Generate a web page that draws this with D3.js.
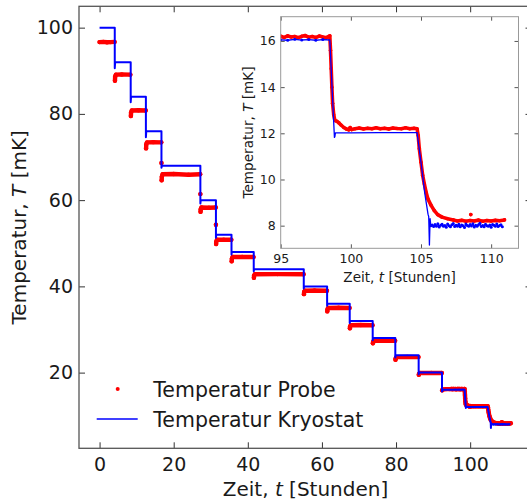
<!DOCTYPE html>
<html><head><meta charset="utf-8">
<script src="https://cdn.jsdelivr.net/npm/d3@7"></script>
<style>
body{margin:0;background:#fff;}
svg{display:block;font-family:"DejaVu Sans",sans-serif;}
</style>
</head><body>
<svg id="chart" width="527" height="501"></svg>
<script>
// ---------- data ----------
const xTicks = [0, 20, 40, 60, 80, 100];
const yTicks = [20, 40, 60, 80, 100];
const insetXTicks = [95, 100, 105, 110];
const insetYTicks = [8, 10, 12, 14, 16];

// Temperatur Probe (red readings), null = gap between recorded runs
const probeT = [
  0, 1, 2, 3, 4.05, null,
  4.15, 4.2, 4.4, 6, 8.3, null,
  8.45, 8.5, 8.7, 10.5, 12.45, null,
  12.55, 12.6, 12.8, 14.5, 16.65, null,
  16.7, null,
  16.75, 16.8, 17.0, 20, 24, 27.15, null,
  27.2, null,
  27.25, 27.3, 27.5, 29.5, 31.35, null,
  31.4, null,
  31.45, 31.5, 31.7, 33.5, 35.55, null,
  35.65, 35.7, 35.9, 38.5, 41.55, null,
  41.65, 41.7, 41.9, 48, 55.05, null,
  55.15, 55.2, 55.4, 58, 61.35, null,
  61.45, 61.5, 61.7, 64.5, 67.45, null,
  67.55, 67.6, 67.8, 70.5, 73.65, null,
  73.75, 73.8, 74.0, 77, 79.75, null,
  79.85, 79.9, 80.1, 83, 86.05, null,
  86.15, 86.2, 86.4, 89.5, 92.35, null,
  92.45, 92.6, 93.5, 94.5, 95.0, 95.25, 95.5, 95.75, 96.0, 96.25, 96.5, 96.75, 97.0, 97.25, 97.5, 97.75, 98.0, 98.25, 98.5,
  98.55, 98.6, 98.65, 98.7, 98.78, 98.86, 99.0, 99.15, 99.3, 99.5, 99.7, 99.85, 99.95, 100.05, 100.3, 100.6, 100.9,
  101.2, 101.5, 101.8, 102.1, 102.4, 102.7, 103.0, 103.3, 103.6, 103.9, 104.2, 104.5, 104.72,
  104.8, 104.88, 105.0, 105.12, 105.24, 105.36, 105.5, 105.72, 105.95, 106.19, 106.5, 106.9, 107.3, 107.6,
  107.9, 108.2, 108.5, 108.8, 109.1, 109.4, 109.7, 110.0, 110.3, 110.6, 110.95, null,
  108.55
];
const probeV = [
  96.65, 96.7, 96.6, 96.65, 96.7, null,
  87.7, 88.6, 89.1, 89.15, 89.1, null,
  79.5, 80.3, 80.8, 80.85, 80.8, null,
  72.0, 72.9, 73.4, 73.45, 73.4, null,
  68.6, null,
  64.6, 65.4, 66.0, 66.05, 65.9, 66.0, null,
  61.4, null,
  57.3, 57.9, 58.3, 58.25, 58.3, null,
  54.3, null,
  49.8, 50.4, 50.8, 50.85, 50.8, null,
  45.8, 46.4, 46.8, 46.85, 46.8, null,
  42.0, 42.5, 42.8, 42.85, 42.8, null,
  38.2, 38.7, 39.0, 39.05, 39.0, null,
  34.2, 34.7, 35.0, 35.05, 35.0, null,
  30.3, 30.7, 31.0, 31.05, 31.0, null,
  26.8, 27.1, 27.4, 27.45, 27.4, null,
  23.0, 23.3, 23.6, 23.65, 23.6, null,
  19.5, 19.7, 19.9, 19.95, 19.9, null,
  15.9, 16.1, 16.18, 16.17, 16.2, 16.15, 16.22, 16.17, 16.19, 16.14, 16.2, 16.23, 16.16, 16.19, 16.15, 16.21, 16.17, 16.14, 16.22,
  15.6, 14.8, 14.0, 13.3, 12.8, 12.56, 12.52, 12.45, 12.36, 12.25, 12.18, 12.15, 12.25, 12.16, 12.2, 12.23, 12.19,
  12.22, 12.2, 12.24, 12.2, 12.22, 12.19, 12.23, 12.21, 12.2, 12.24, 12.2, 12.22, 12.2,
  11.9, 11.33, 10.75, 10.18, 9.8, 9.46, 9.15, 8.88, 8.65, 8.48, 8.37, 8.3, 8.25, 8.2,
  8.23, 8.19, 8.22, 8.2, 8.24, 8.19, 8.22, 8.2, 8.23, 8.21, 8.25, null,
  8.48
];

// Temperatur Kryostat (blue line)
const kryoT = [
  0, 4.1, 4.1, 4.2, 8.4, 8.4, 8.5, 12.5, 12.5, 12.6, 16.7, 16.7, 16.8, 27.2, 27.2, 27.3,
  31.4, 31.4, 31.5, 35.6, 35.6, 35.7, 41.6, 41.6, 41.7, 55.1, 55.1, 55.2, 61.4, 61.4, 61.5,
  67.5, 67.5, 67.6, 73.7, 73.7, 73.8, 79.8, 79.8, 79.9, 86.1, 86.1, 86.2, 92.4, 92.4, 92.5,
  95.0, 95.5, 96.0, 96.5, 97.0, 97.5, 98.0, 98.5, 98.83, 98.86, 98.9, 100, 102, 104.72,
  104.98, 105.27, 105.5, 105.55, 105.6, 105.65, 105.7,
  105.8, 105.9, 106.0, 106.1, 106.2, 106.3, 106.4, 106.5, 106.6, 106.7, 106.8, 106.9, 107.0,
  107.1, 107.2, 107.3, 107.4, 107.5, 107.6, 107.7, 107.8, 107.9, 108.0, 108.1, 108.2, 108.3,
  108.4, 108.5, 108.6, 108.7, 108.8, 108.9, 109.0, 109.1, 109.2, 109.3, 109.4, 109.5, 109.6,
  109.7, 109.8, 109.9, 110.0, 110.1, 110.2, 110.3, 110.4, 110.5, 110.6, 110.7, 110.8
];
const kryoV = [
  100, 100, 90.6, 92, 92, 82.7, 84, 84, 74.6, 76, 76, 67.5, 68, 68, 59.2, 60,
  60, 51.3, 52, 52, 47.4, 48, 48, 43.5, 44, 44, 39.5, 40, 40, 35.5, 36,
  36, 31.5, 32, 32, 27.5, 28, 28, 23.5, 24, 24, 19.6, 20, 20, 15.6, 16.05,
  16.05, 16.03, 16.07, 16.04, 16.06, 16.03, 16.06, 16.04, 11.82, 11.85, 12.02, 12.02, 12.03, 12.03,
  10.84, 9.4, 8.5, 8.39, 7.16, 8.3, 8.0,
  8.03, 7.96, 8.05, 7.98, 8.08, 7.94, 8.02, 8.06, 7.97, 8.01, 7.93, 8.07, 8.0,
  7.95, 8.04, 8.09, 7.96, 8.02, 7.98, 8.06, 7.95, 8.03, 8.0, 7.92, 8.07, 8.01,
  7.97, 8.05, 7.99, 8.08, 7.94, 8.02, 7.98, 8.04, 8.1, 7.96, 8.01, 7.95, 8.06,
  8.0, 7.97, 8.03, 7.93, 8.05, 8.02, 7.98, 8.07, 7.96, 8.01, 8.04, 7.95
];

// ---------- drawing ----------
const svg = d3.select("#chart");
const probe = probeT.map((t, i) => ({t, v: probeV[i]}));
const kryo = kryoT.map((t, i) => ({t, v: kryoV[i]}));

function panel(opts) {
  const {x, y, clipId, redW, blueW, xt, yt, fs, tick, frameCol, tickCol, pad, xPad} = opts;
  const [x0, x1] = x.range(), [y0, y1] = y.range();
  const g = svg.append("g");
  if (opts.bg) g.append("rect").attr("x", x0).attr("y", y1).attr("width", x1 - x0).attr("height", y0 - y1).attr("fill", "#fff");
  svg.append("defs").append("clipPath").attr("id", clipId)
    .append("rect").attr("x", x0).attr("y", y1).attr("width", x1 - x0).attr("height", y0 - y1);
  const plot = g.append("g").attr("clip-path", `url(#${clipId})`);
  const line = d3.line().defined(d => d.v != null && d.t != null).x(d => x(d.t)).y(d => y(d.v));
  plot.append("path").datum(probe).attr("d", line).attr("fill", "none")
    .attr("stroke", "#ff0000").attr("stroke-width", redW)
    .attr("stroke-linecap", "round").attr("stroke-linejoin", "round");
  plot.selectAll("circle.p").data(probe.filter(d => d.v != null)).join("circle")
    .attr("class", "p").attr("cx", d => x(d.t)).attr("cy", d => y(d.v)).attr("r", redW / 2).attr("fill", "#ff0000");
  plot.append("path").datum(kryo).attr("d", line).attr("fill", "none")
    .attr("stroke", "#0000ff").attr("stroke-width", blueW).attr("stroke-linejoin", "round");
  if (opts.blueDots) {
    plot.selectAll("circle.k").data(kryo.filter(d => d.t >= 95 && (d.t < 98.5 || d.t > 105.65))).join("circle")
      .attr("class", "k").attr("cx", d => x(d.t)).attr("cy", d => y(d.v)).attr("r", opts.blueDots).attr("fill", "#0000ff");
  }

  const axB = g.append("g").attr("transform", `translate(0,${y0})`)
    .call(d3.axisBottom(x).tickValues(xt).tickSize(-tick).tickPadding(xPad).tickFormat(d3.format("d")));
  const axT = g.append("g").attr("transform", `translate(0,${y1})`)
    .call(d3.axisTop(x).tickValues(xt).tickSize(-tick).tickFormat(""));
  const axL = g.append("g").attr("transform", `translate(${x0},0)`)
    .call(d3.axisLeft(y).tickValues(yt).tickSize(-tick).tickPadding(pad).tickFormat(d3.format("d")));
  const axR = g.append("g").attr("transform", `translate(${x1},0)`)
    .call(d3.axisRight(y).tickValues(yt).tickSize(-tick).tickFormat(""));
  [axB, axT, axL, axR].forEach(a => {
    a.select(".domain").remove();
    a.selectAll(".tick line").attr("stroke", tickCol).attr("stroke-width", 1);
    a.selectAll(".tick text").attr("font-size", fs).attr("fill", "#1a1a1a").attr("font-family", "DejaVu Sans");
  });
  g.append("rect").attr("x", x0).attr("y", y1).attr("width", x1 - x0).attr("height", y0 - y1)
    .attr("fill", "none").attr("stroke", frameCol).attr("stroke-width", opts.frameW);
  return g;
}

// main
const x = d3.scaleLinear([-5.55, 116.55], [79, 531.5]);
const y = d3.scaleLinear([2.45, 104.95], [448.3, 6.3]);
panel({x, y, clipId: "clipMain", redW: 4.4, blueW: 2, xt: xTicks, yt: yTicks, fs: 19, tick: 6,
  frameCol: "#555", tickCol: "#333", pad: 6, xPad: 9, frameW: 1.3});

// legend
svg.append("circle").attr("cx", 117.7).attr("cy", 389).attr("r", 2).attr("fill", "#ff0000");
svg.append("line").attr("x1", 96.7).attr("x2", 137.7).attr("y1", 419).attr("y2", 419)
  .attr("stroke", "#0000ff").attr("stroke-width", 1.5);
svg.append("text").attr("x", 153.3).attr("y", 396.5).attr("font-size", 20.5).attr("fill", "#1a1a1a").text("Temperatur Probe");
svg.append("text").attr("x", 153.3).attr("y", 426.5).attr("font-size", 20.5).attr("fill", "#1a1a1a").text("Temperatur Kryostat");

// axis labels main
const xl = svg.append("text").attr("x", 305.5).attr("y", 495.5).attr("text-anchor", "middle")
  .attr("font-size", 20).attr("fill", "#1a1a1a");
xl.append("tspan").text("Zeit, ");
xl.append("tspan").attr("font-style", "italic").text("t");
xl.append("tspan").text(" [Stunden]");
const yl = svg.append("text").attr("transform", "translate(25.5,227.3) rotate(-90)").attr("text-anchor", "middle")
  .attr("font-size", 20).attr("fill", "#1a1a1a");
yl.append("tspan").text("Temperatur, ");
yl.append("tspan").attr("font-style", "italic").text("T");
yl.append("tspan").text(" [mK]");

// inset
const xi = d3.scaleLinear([95, 111.95], [280.7, 518.5]);
const yi = d3.scaleLinear([7.02, 17.05], [248.3, 16.7]);
panel({x: xi, y: yi, clipId: "clipInset", redW: 3.6, blueW: 1.3, xt: insetXTicks, yt: insetYTicks, fs: 12.5, tick: 4,
  frameCol: "#999", tickCol: "#555", pad: 5, xPad: 6, frameW: 1, bg: true, blueDots: 1.5});
const xli = svg.append("text").attr("x", 399.6).attr("y", 281.5).attr("text-anchor", "middle")
  .attr("font-size", 13.6).attr("fill", "#1a1a1a");
xli.append("tspan").text("Zeit, ");
xli.append("tspan").attr("font-style", "italic").text("t");
xli.append("tspan").text(" [Stunden]");
const yli = svg.append("text").attr("transform", "translate(253,132.5) rotate(-90)").attr("text-anchor", "middle")
  .attr("font-size", 13.6).attr("fill", "#1a1a1a");
yli.append("tspan").text("Temperatur, ");
yli.append("tspan").attr("font-style", "italic").text("T");
yli.append("tspan").text(" [mK]");
</script>
</body></html>
